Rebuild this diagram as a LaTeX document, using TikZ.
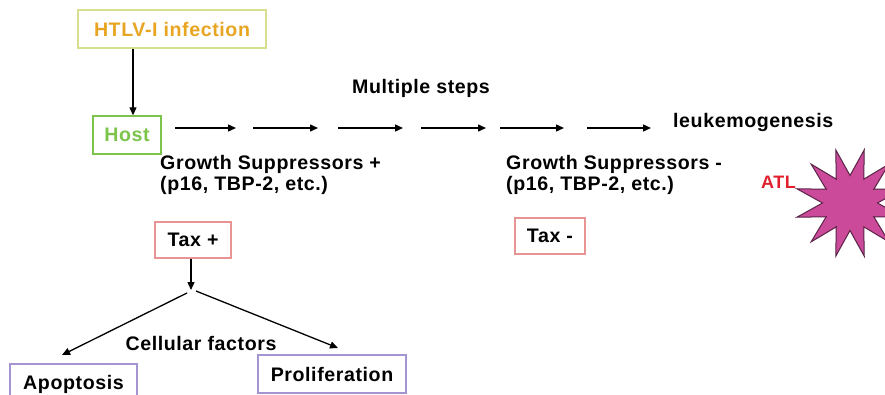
\documentclass[tikz,border=0pt]{standalone}
\usepackage{fontspec}
\setmainfont{Liberation Sans}[LetterSpace=3]
\usetikzlibrary{arrows.meta,shapes.geometric}
\definecolor{htlvtxt}{HTML}{E8A522}
\definecolor{htlvbrd}{HTML}{D6DE90}
\definecolor{hostc}{HTML}{7CC44C}
\definecolor{taxbrd}{HTML}{E89494}
\definecolor{purpbrd}{HTML}{A494D2}
\definecolor{atlred}{HTML}{E0202E}
\definecolor{starfill}{HTML}{CC4A9A}
\definecolor{starbrd}{HTML}{5A2448}
\tikzset{
  every node/.style={font=\fontsize{19.6}{21}\selectfont\bfseries, inner sep=0pt},
  boxed/.style={draw, line width=1.4pt, align=center},
  arr/.style={line width=1.3pt, -{Triangle[length=8pt,width=7pt]}},
}
\begin{document}
\begin{tikzpicture}[x=1pt,y=-1pt]
\useasboundingbox (0,0) rectangle (885,395);
\fill[white] (0,0) rectangle (885,395);
% boxes
\node[boxed, draw=htlvbrd, text=htlvtxt, minimum width=188pt, minimum height=38pt] (htlv) at (172,29) {HTLV-I infection};
\node[boxed, draw=hostc, text=hostc, minimum width=68pt, minimum height=38pt] (host) at (127,135) {Host};
\node[boxed, draw=taxbrd, minimum width=76pt, minimum height=36pt] (taxp) at (193,240) {Tax +};
\node[boxed, draw=taxbrd, minimum width=70pt, minimum height=36pt] (taxm) at (550,236) {Tax -};
\node[boxed, draw=purpbrd, minimum width=127pt, minimum height=40pt] (apop) at (73.5,384) {Apoptosis};
\node[boxed, draw=purpbrd, minimum width=148pt, minimum height=38pt] (prol) at (332,374) {Proliferation};
% texts
\node (multi) at (421,88) {Multiple steps};
\node[anchor=west] (leuk) at (673,122) {leukemogenesis};
\node[anchor=north west, align=left] (gsp) at (160,155) {Growth Suppressors +\\(p16, TBP-2, etc.)};
\node[anchor=north west, align=left] (gsm) at (506,155) {Growth Suppressors -\\(p16, TBP-2, etc.)};
\node (cell) at (201,343) {Cellular factors};
% star
\node[star, star points=12, star point ratio=2.0, minimum size=110pt, shape border rotate=15,
      fill=starfill, draw=starbrd, line width=1pt] (star) at (850,203) {};
\node[anchor=east, text=atlred, font=\fontsize{18}{20}\selectfont\bfseries] (atl) at (796,182) {ATL};
% arrows
\draw[arr] ([xshift=6pt]host.north |- htlv.south) -- ([xshift=6pt]host.north);
\foreach \xa/\xb [count=\i] in {175/236, 253/318, 338/403, 421/486, 500/564, 587/651}{
  \coordinate (s\i) at (\xa,128);
  \coordinate (e\i) at (\xb,128);
  \draw[arr] (s\i) -- (e\i);
}
\coordinate (tb) at (191,290);
\coordinate (bl) at (187,293);
\coordinate (br) at (196,291);
\coordinate (al) at (62,355);
\coordinate (ar) at (338,348);
\draw[arr] (taxp.south -| tb) -- (tb);
\draw[arr] (bl) -- (al);
\draw[arr] (br) -- (ar);
\end{tikzpicture}
\end{document}
